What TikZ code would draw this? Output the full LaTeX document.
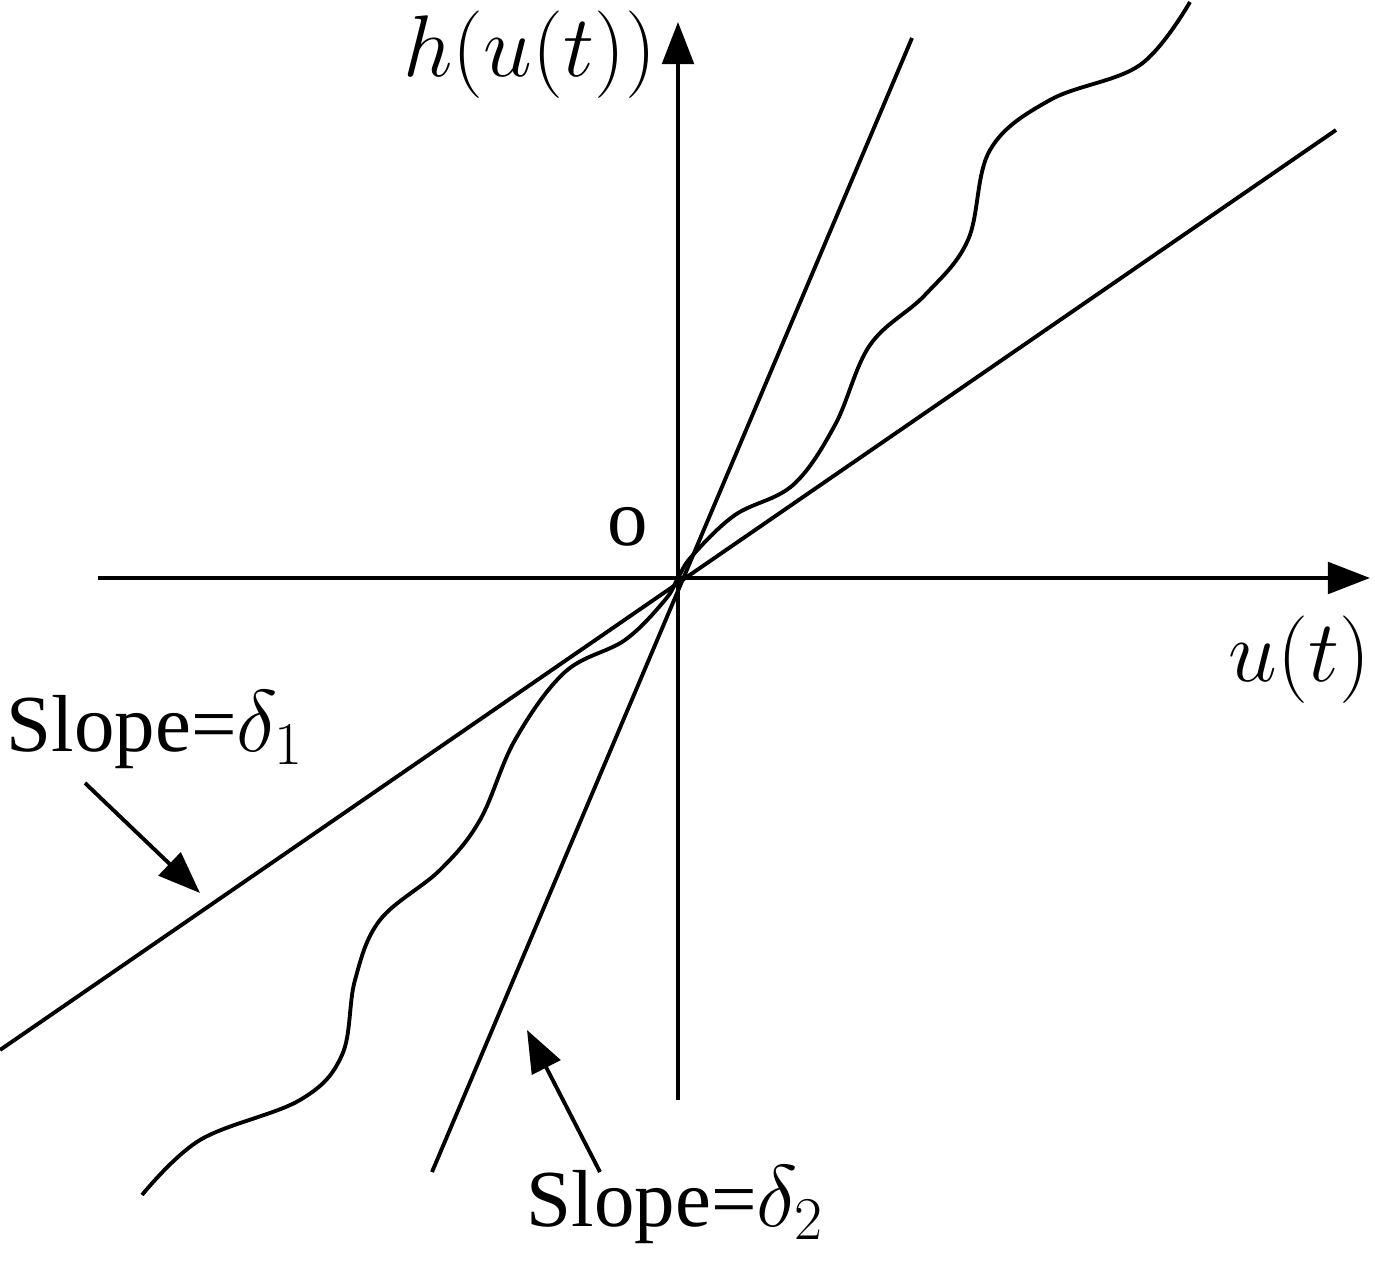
\documentclass[tikz,border=0pt]{standalone}
\usepackage{fontspec}
\setmainfont{Liberation Serif}
\usetikzlibrary{arrows.meta}
\begin{document}
\begin{tikzpicture}[x=0.01cm,y=-0.01cm,line width=1.1pt,
  ax/.style={-{Triangle[length=12pt,width=9pt]}},
  lab/.style={font=\fontsize{23}{26}\selectfont,inner sep=0pt}]
\useasboundingbox (0,0) rectangle (1375,1273);
\coordinate (xa) at (98,578); \coordinate (xb) at (1370,578);
\coordinate (ya) at (678,1100); \coordinate (yb) at (678,22);
\draw[ax] (xa) -- (xb);
\draw[ax] (ya) -- (yb);
\coordinate (s1) at (432,1172); \coordinate (s2) at (912,38);
\draw (s1) -- (s2);
\coordinate (f1) at (0,1050); \coordinate (f2) at (1336,130);
\draw (f1) -- (f2);
\draw plot[smooth,tension=0.6] coordinates {(142,1195)(200,1140)(300,1100)(342,1055)(355,980)(380,920)(440,870)(480,820)(515,740)(565,672)(625,640)(665,600)(678,578)(692,556)(735,515)(793,485)(835,425)(870,345)(925,295)(968,240)(990,150)(1050,100)(1140,65)(1190,2)};
\node[lab,anchor=east] (u) at (1372,660) {$u(t)$};
\node[lab] (h) at (530,55) {$h(u(t))$};
\node[lab] (o) at (628,527) {o};
\node[lab,anchor=west] (d1) at (5,730) {Slope=$\delta_1$};
\node[lab,anchor=west] (d2) at (525,1205) {Slope=$\delta_2$};
\coordinate (a1) at (85,783); \coordinate (b1) at (200,893);
\coordinate (a2) at (600,1172); \coordinate (b2) at (527,1030);
\draw[ax] (a1) -- (b1);
\draw[ax] (a2) -- (b2);
\end{tikzpicture}
\end{document}
